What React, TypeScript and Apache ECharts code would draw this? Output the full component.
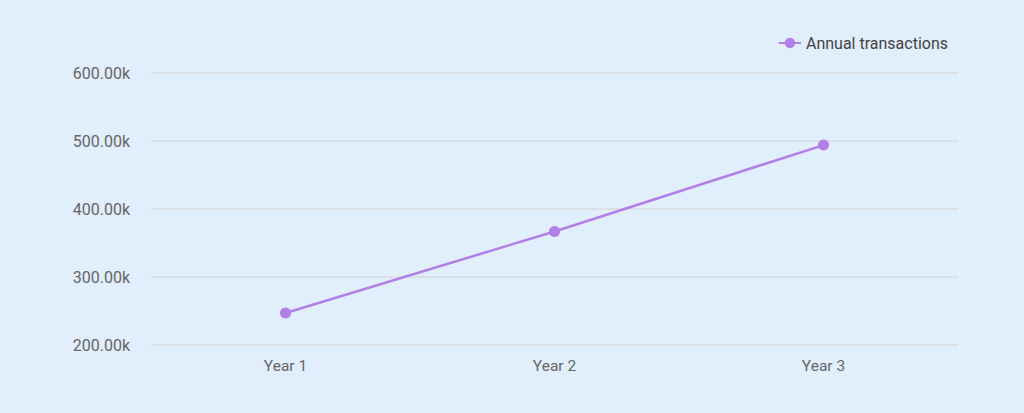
import { useEffect, useRef } from "react";
import * as echarts from "echarts";

const years = ["Year 1", "Year 2", "Year 3"];
const annualTransactions = [247000, 367000, 494000];

export default function App() {
  const chartRef = useRef<HTMLDivElement>(null);

  useEffect(() => {
    if (!chartRef.current) return;
    document.body.style.margin = "0";

    const chart = echarts.init(chartRef.current, null, { renderer: "svg" });

    chart.setOption({
      animation: false,
      backgroundColor: "#e1eefb",
      textStyle: { fontFamily: "Roboto" },
      legend: {
        data: ["Annual transactions"],
        right: 71,
        top: 30,
        itemWidth: 22,
        itemHeight: 13,
        itemGap: 8,
        textStyle: { color: "#444", fontSize: 16, fontFamily: "Roboto" },
      },
      tooltip: { show: false },
      grid: {
        left: 151,
        right: 66,
        top: 73,
        bottom: 68,
      },
      xAxis: {
        type: "category",
        data: years,
        boundaryGap: true,
        axisLine: { show: false },
        axisTick: { show: false },
        axisLabel: { color: "#666", fontSize: 15.5, margin: 13 },
      },
      yAxis: {
        type: "value",
        min: 200000,
        max: 600000,
        interval: 100000,
        axisLine: { show: false },
        axisTick: { show: false },
        axisLabel: {
          color: "#666",
          fontSize: 16,
          margin: 21,
          formatter: (v: number) => (v / 1000).toFixed(2) + "k",
        },
        splitLine: { lineStyle: { color: "#d8dbe0", width: 1.5 } },
      },
      series: [
        {
          name: "Annual transactions",
          type: "line",
          data: annualTransactions,
          symbol: "circle",
          symbolSize: 11,
          color: "#b27fe6",
          lineStyle: { width: 2.5, color: "#b27fe6" },
          itemStyle: { color: "#b27fe6" },
        },
      ],
    });

    return () => {
      chart.dispose();
    };
  }, []);

  return <div ref={chartRef} style={{ width: 1024, height: 413 }} />;
}
